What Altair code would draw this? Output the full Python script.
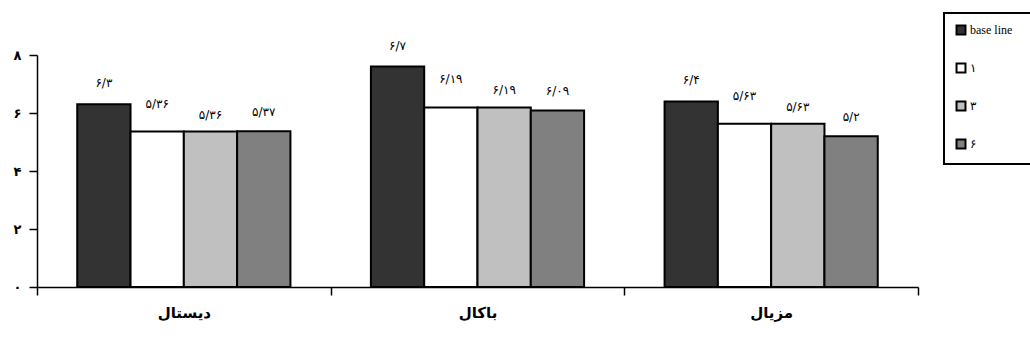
import altair as alt
import pandas as pd

groups = ["دیستال", "باکال", "مزیال"]
series = ["base line", "۱", "۳", "۶"]
values = {
    "base line": [6.3, 7.6, 6.4],
    "۱": [5.36, 6.19, 5.63],
    "۳": [5.36, 6.19, 5.63],
    "۶": [5.37, 6.09, 5.2],
}
value_labels = {
    "base line": ["۶/۳", "۶/۷", "۶/۴"],
    "۱": ["۵/۳۶", "۶/۱۹", "۵/۶۳"],
    "۳": ["۵/۳۶", "۶/۱۹", "۵/۶۳"],
    "۶": ["۵/۳۷", "۶/۰۹", "۵/۲"],
}
colors = ["#333333", "#ffffff", "#c0c0c0", "#808080"]
y_ticks = [0, 2, 4, 6, 8]
y_tick_labels = ["۰", "۲", "۴", "۶", "۸"]

rows = []
for s in series:
    for g, v, lab in zip(groups, values[s], value_labels[s]):
        rows.append({"group": g, "series": s, "value": v, "label": lab})
df = pd.DataFrame(rows)

# label offsets per series (style)
label_dy = {"base line": -21, "۱": -28, "۳": -17, "۶": -19}

y_label_expr = " : ".join(
    f"datum.value == {t} ? '{l}'" for t, l in zip(y_ticks, y_tick_labels)
) + " : ''"

x_enc = alt.X(
    "group:N",
    sort=groups,
    scale=alt.Scale(paddingInner=0, paddingOuter=0),
    axis=alt.Axis(
        title=None,
        labelAngle=0,
        labelFont="DejaVu Sans",
        labelFontSize=15,
        labelFontWeight="bold",
        labelColor="black",
        labelPadding=10,
        tickBand="extent",
        tickSize=8,
        tickColor="black",
        tickWidth=1.5,
        domainColor="black",
        domainWidth=1.5,
    ),
)
xo_enc = alt.XOffset(
    "series:N",
    sort=series,
    scale=alt.Scale(paddingInner=0, paddingOuter=0.755),
)
y_enc = alt.Y(
    "value:Q",
    scale=alt.Scale(domain=[0, 8], nice=False, zero=True),
    axis=alt.Axis(
        title=None,
        values=y_ticks,
        labelExpr=y_label_expr,
        labelFont="DejaVu Sans",
        labelFontSize=13,
        labelFontWeight="bold",
        labelColor="black",
        labelPadding=8,
        tickSize=8,
        tickColor="black",
        tickWidth=1.5,
        domainColor="black",
        domainWidth=1.5,
        grid=False,
    ),
)

bars = alt.Chart(df).mark_bar(stroke="black", strokeWidth=2, opacity=1).encode(
    x=x_enc,
    xOffset=xo_enc,
    y=y_enc,
    color=alt.Color(
        "series:N",
        sort=series,
        scale=alt.Scale(domain=series, range=colors),
        legend=alt.Legend(
            title="M",
            titleColor="white",
            titleOrient="right",
            titleFontSize=12,
            titlePadding=0,
            orient="none",
            legendX=907,
            legendY=-42,
            symbolType="square",
            symbolSize=80,
            symbolStrokeColor="black",
            symbolStrokeWidth=2,
            symbolOpacity=1,
            labelFont="Liberation Serif",
            labelFontSize=12,
            labelColor="black",
            labelOffset=3,
            labelLimit=300,
            rowPadding=20,
            padding=11,
            strokeColor="black",
        ),
    ),
)

texts = []
for s in series:
    t = (
        alt.Chart(df)
        .transform_filter(alt.datum.series == s)
        .mark_text(
            font="DejaVu Sans",
            fontSize=12,
            color="black",
            baseline="middle",
            align="center",
            dy=label_dy[s],
        )
        .encode(x=x_enc, xOffset=xo_enc, y=y_enc, text="label:N")
    )
    texts.append(t)

chart = (
    alt.layer(bars, *texts)
    .properties(
        width=881,
        height=232,
        autosize=alt.AutoSizeParams(type="none"),
        padding={"left": 37, "top": 55, "right": 112, "bottom": 63},
        background="white",
    )
    .configure_view(strokeWidth=0)
    .configure_legend(strokeWidth=2)
)

chart.save("out.html", embed_options={"renderer": "svg", "actions": False})
